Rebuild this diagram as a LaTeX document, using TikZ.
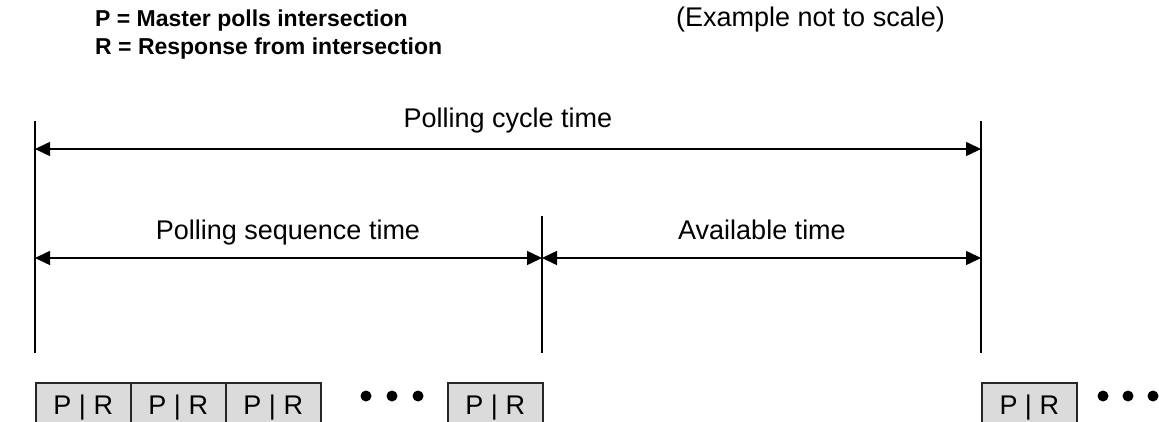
\documentclass[tikz,border=0pt]{standalone}
\usepackage{fontspec}
\setmainfont{Liberation Sans}
\usetikzlibrary{arrows.meta}
\begin{document}
\begin{tikzpicture}[x=1pt,y=-1pt,
  lbl/.style={font=\fontsize{27}{32}\selectfont, anchor=base, inner sep=0pt},
  hdr/.style={font=\fontsize{23}{27}\selectfont\bfseries, anchor=base west, inner sep=0pt},
  vline/.style={line width=1.5pt},
  dim/.style={line width=1.5pt, {Triangle[length=15pt,width=14pt]}-{Triangle[length=15pt,width=14pt]}},
  prbox/.style={draw=black!85, fill=black!14, line width=1.5pt, minimum width=95pt, minimum height=50pt, anchor=north west, inner sep=0pt, font=\fontsize{27}{32}\selectfont},
  dotn/.style={circle, fill=black, minimum size=11pt, inner sep=0pt}]
\clip (0,0) rectangle (1159,422);
\fill[white] (0,0) rectangle (1159,422);
% header
\node[hdr] (h1) at (95,27) {P = Master polls intersection};
\node[hdr] (h2) at (95,55) {R = Response from intersection};
\node[lbl, anchor=base east] (ex) at (945,27) {(Example not to scale)};
% vertical lines
\coordinate (lt) at (35,121); \coordinate (lb) at (35,353);
\coordinate (mt) at (542,216); \coordinate (mb) at (542,353);
\coordinate (rt) at (981,121); \coordinate (rb) at (981,353);
\draw[vline] (lt) -- (lb);
\draw[vline] (mt) -- (mb);
\draw[vline] (rt) -- (rb);
% dimension arrows
\coordinate (a1l) at (35,149); \coordinate (a1r) at (981,149);
\coordinate (a2l) at (35,258); \coordinate (a2m) at (542,258); \coordinate (a2r) at (981,258);
\draw[dim] (a1l) -- (a1r);
\draw[dim] (a2l) -- (a2m);
\draw[dim] (a2m) -- (a2r);
\node[lbl] (t1) at (508,128) {Polling cycle time};
\node[lbl] (t2) at (288,240) {Polling sequence time};
\node[lbl] (t3) at (762,240) {Available time};
% boxes
\node[prbox] (b1) at (35,382) {P | R};
\node[prbox] (b2) at (130,382) {P | R};
\node[prbox] (b3) at (225,382) {P | R};
\node[dotn] (d1) at (366,396) {};
\node[dotn] (d2) at (392,396) {};
\node[dotn] (d3) at (418,396) {};
\node[prbox] (b4) at (447,382) {P | R};
\node[prbox] (b5) at (981,382) {P | R};
\node[dotn] (d4) at (1103,396) {};
\node[dotn] (d5) at (1128,396) {};
\node[dotn] (d6) at (1153,396) {};
\end{tikzpicture}
\end{document}
